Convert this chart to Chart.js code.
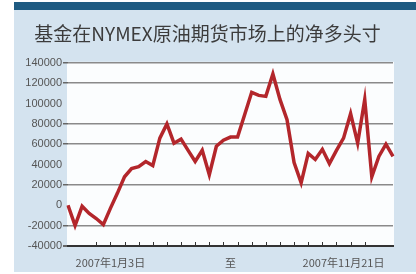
<!DOCTYPE html>
<html>
<head>
<meta charset="utf-8">
<script src="https://cdn.jsdelivr.net/npm/chart.js@4/dist/chart.umd.min.js"></script>
<style>
  html, body { margin: 0; padding: 0; background: #fff; }
  #wrap { position: relative; width: 416px; height: 274px; overflow: hidden; }
  #panel { position: absolute; left: 14px; top: 2px; right: 0; bottom: 2px; background: #d4e3ef; }
  #band { position: absolute; left: 14px; top: 2px; right: 0; height: 8px; background: #1f5b82; }
  #chart { position: absolute; left: 0; top: 0; }
</style>
</head>
<body>
<div id="wrap">
  <div id="panel"></div>
  <div id="band"></div>
  <canvas id="chart" width="416" height="274"></canvas>
</div>
<script>
// weekly reports, 2007
const weeks = ["1/3","1/10","1/17","1/24","1/31","2/7","2/14","2/21","2/28","3/7","3/14","3/21","3/28",
  "4/4","4/11","4/18","4/25","5/2","5/9","5/16","5/23","5/30","6/6","6/13","6/20","6/27",
  "7/4","7/11","7/18","7/25","8/1","8/8","8/15","8/22","8/29","9/5","9/12","9/19","9/26",
  "10/3","10/10","10/17","10/24","10/31","11/7","11/14","11/21"]
const netLong = [0, -20000, -1000, -8000, -13000, -19000, -3000, 12000, 28000, 36000, 38000, 43000, 39000,
  66000, 80000, 61000, 65000, 54000, 43000, 54000, 30000, 58000, 64000, 67000, 67000, 89000,
  111000, 108000, 107000, 129000, 104000, 84000, 42000, 22000, 51000, 45000, 55000, 41000, 54000,
  66000, 90000, 61000, 104000, 28000, 48000, 60000, 48000]
const yTicks = [140000, 120000, 100000, 80000, 60000, 40000, 20000, 0, -20000, -40000]
const gridAt = [140000, 120000, 80000, 60000, 20000, -20000, -40000]
const xLabels = { 6: "2007年1月3日", 23: "至", 39: "2007年11月21日" }

// white plot background + small upward ticks on the bottom axis
const plotDeco = {
  id: "plotDeco",
  beforeDraw(chart) {
    const { ctx, chartArea } = chart
    ctx.save()
    ctx.fillStyle = "#fbfdfe"
    ctx.fillRect(chartArea.left - 1, chartArea.top - 1, chartArea.right - chartArea.left + 2, chartArea.bottom - chartArea.top + 1)
    ctx.restore()
  },
  afterDraw(chart) {
    const { ctx, chartArea } = chart
    const x = chart.scales.x
    ctx.save()
    ctx.strokeStyle = "#333"
    ctx.lineWidth = 1
    for (let i = 4; i <= 42; i += 2) {
      const px = Math.round(x.getPixelForValue(i)) + 0.5
      ctx.beginPath()
      ctx.moveTo(px, chartArea.bottom)
      ctx.lineTo(px, chartArea.bottom - 4)
      ctx.stroke()
    }
    ctx.restore()
  }
}

new Chart(document.getElementById("chart"), {
  type: "line",
  data: {
    labels: weeks,
    datasets: [{
      data: netLong,
      borderColor: "#b3262b",
      borderWidth: 3.5,
      pointRadius: 0,
      tension: 0,
      fill: false
    }]
  },
  options: {
    responsive: false,
    animation: false,
    layout: { padding: { left: 22, right: 23, top: 21, bottom: 4 } },
    plugins: {
      legend: { display: false },
      tooltip: { enabled: false },
      title: {
        display: true,
        text: "基金在NYMEX原油期货市场上的净多头寸",
        color: "#3c3c3c",
        font: { family: "Noto Sans CJK SC", size: 19, weight: "normal" },
        padding: { top: 1, bottom: 18 }
      }
    },
    scales: {
      x: {
        offset: false,
        border: { display: true, color: "#333", width: 2 },
        grid: { display: false },
        afterFit(scale) { scale.height = 24 },
        afterBuildTicks(scale) {
          scale.ticks = Object.keys(xLabels).map(k => ({ value: Number(k) }))
        },
        ticks: {
          autoSkip: false,
          maxRotation: 0,
          padding: 2,
          color: "#555",
          font: { family: "Noto Sans CJK SC", size: 11 },
          callback: (v) => xLabels[v] || ""
        }
      },
      y: {
        min: -40000,
        max: 140000,
        afterFit(scale) { scale.width = 46 },
        afterBuildTicks(scale) {
          scale.ticks = yTicks.map(v => ({ value: v }))
        },
        border: { display: false },
        grid: {
          color: (c) => gridAt.includes(c.tick && c.tick.value) ? "#8a8a8a" : "rgba(0,0,0,0)",
          lineWidth: (c) => c.tick && c.tick.value === -40000 ? 2 : 1.5,
          tickLength: 5,
          tickColor: (c) => gridAt.includes(c.tick && c.tick.value) ? "#666" : "rgba(0,0,0,0)"
        },
        ticks: {
          padding: 1,
          color: "#555",
          font: { family: "Liberation Sans", size: 11 },
          callback: (v) => String(v)
        }
      }
    }
  },
  plugins: [plotDeco]
})
</script>
</body>
</html>
